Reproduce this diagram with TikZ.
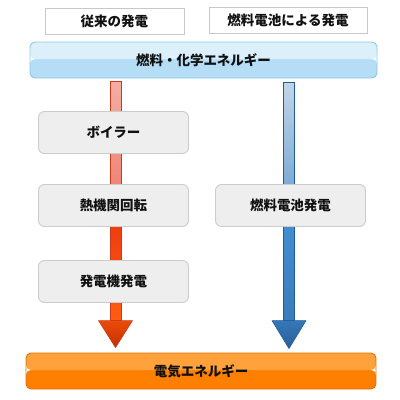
\documentclass[tikz,border=0pt]{standalone}
\usepackage{fontspec}
\newfontfamily\jp{Noto Sans CJK JP}
\usetikzlibrary{calc}
\definecolor{hdrborder}{HTML}{C8C8C8}
\definecolor{topA}{HTML}{DCF0FC}
\definecolor{topB}{HTML}{B5DEF6}
\definecolor{topBorder}{HTML}{8EC6E8}
\definecolor{botA}{HTML}{FFA23C}
\definecolor{botB}{HTML}{FF8000}
\definecolor{botBorder}{HTML}{E07400}
\definecolor{boxfill}{HTML}{EEEEEE}
\definecolor{boxborder}{HTML}{CCCCCC}
\definecolor{redA}{HTML}{F5AEA3}
\definecolor{redB}{HTML}{EE7A68}
\definecolor{redC}{HTML}{EE3A10}
\definecolor{redD}{HTML}{FF5C12}
\definecolor{redHeadA}{HTML}{EC4C08}
\definecolor{redHeadB}{HTML}{C62E00}
\definecolor{redBorder}{HTML}{C83C1C}
\definecolor{blueA}{HTML}{C2D5E8}
\definecolor{blueB}{HTML}{6A9ED0}
\definecolor{blueC}{HTML}{4590D0}
\definecolor{blueM}{HTML}{4AB8EE}
\definecolor{blueD}{HTML}{3A7CBC}
\definecolor{blueHeadA}{HTML}{3578B8}
\definecolor{blueHeadB}{HTML}{295E96}
\definecolor{blueBorder}{HTML}{1F5C9C}
\definecolor{txt}{HTML}{111111}
\tikzset{
  jpfont/.style={font=\jp\bfseries\fontsize{13.5}{16}\selectfont, text=txt},
  header/.style={jpfont, draw=hdrborder, fill=white, line width=0.9pt, inner sep=0pt},
  bar/.style={jpfont, draw=#1, line width=0.9pt, rounded corners=5pt, inner sep=0pt},
  stepbox/.style={jpfont, draw=boxborder, fill=boxfill, line width=0.9pt, rounded corners=6pt,
    minimum width=150pt, minimum height=42pt, inner sep=0pt},
  twotone/.style 2 args={path picture={
    \fill[#2] (path picture bounding box.south west) rectangle ($(path picture bounding box.east)+(0,-1)$);
    \fill[#1] (path picture bounding box.north west) rectangle ($(path picture bounding box.east)+(0,-1)$);}},
}
\begin{document}
\begin{tikzpicture}[x=1pt,y=-1pt]
\useasboundingbox (0,0) rectangle (400,400);
% headers
\node[header, minimum width=139pt, minimum height=26pt] (h1) at (114.5,21) {従来の発電};
\node[header, minimum width=158pt, minimum height=26pt] (h2) at (288,20.5) {燃料電池による発電};
% top and bottom bars
\node[bar=topBorder, twotone={topA}{topB}, minimum width=347pt, minimum height=36pt] (top) at (203.5,60) {燃料・化学エネルギー};
\node[bar=botBorder, twotone={botA}{botB}, minimum width=350pt, minimum height=36pt] (bot) at (201,371) {電気エネルギー};
% arrow end points
\coordinate (rs) at ($(top.south -| 115.5,0)+(0,3)$);
\coordinate (rt) at ($(bot.north -| 115.5,0)+(0,-5)$);
\coordinate (rm) at ($(rs)!0.5!(rt)$);
\coordinate (bs) at ($(top.south -| 289,0)+(0,4)$);
\coordinate (bt) at ($(bot.north -| 289,0)+(0,-4)$);
\coordinate (bm) at ($(bs)!0.5!(bt)$);
% red arrow
\shade[top color=redA, bottom color=redB]
  ($(rs)+(-5.5,0)$) rectangle ($(rm)+(5.5,0)$);
\shade[top color=redC, bottom color=redD]
  ($(rm)+(-5.5,0)$) rectangle ($(rt)+(5.5,-27)$);
\draw[redBorder, line width=0.8pt] ($(rs)+(-5.5,0)$) rectangle ($(rt)+(5.5,-27)$);
\shade[top color=redHeadA, bottom color=redHeadB, draw=redBorder, line width=0.6pt, line join=round]
  ($(rt)+(-17,-27)$) -- ($(rt)+(17,-27)$) -- (rt) -- cycle;
% blue arrow
\shade[top color=blueA, bottom color=blueB]
  ($(bs)+(-5.5,0)$) rectangle ($(bm)+(5.5,0)$);
\shade[top color=blueC, middle color=blueM, bottom color=blueD]
  ($(bm)+(-5.5,0)$) rectangle ($(bt)+(5.5,-28)$);
\draw[blueBorder, line width=0.8pt] ($(bs)+(-5.5,0)$) rectangle ($(bt)+(5.5,-28)$);
\shade[top color=blueHeadA, bottom color=blueHeadB, draw=blueBorder, line width=0.6pt, line join=round]
  ($(bt)+(-17,-28)$) -- ($(bt)+(17,-28)$) -- (bt) -- cycle;
% steps
\node[stepbox] (b1) at (113.5,132.5) {ボイラー};
\node[stepbox] (b2) at (113.5,205.5) {熱機関回転};
\node[stepbox] (b3) at (113.5,281.5) {発電機発電};
\node[stepbox] (b4) at (290.5,205.5) {燃料電池発電};
\end{tikzpicture}
\end{document}
